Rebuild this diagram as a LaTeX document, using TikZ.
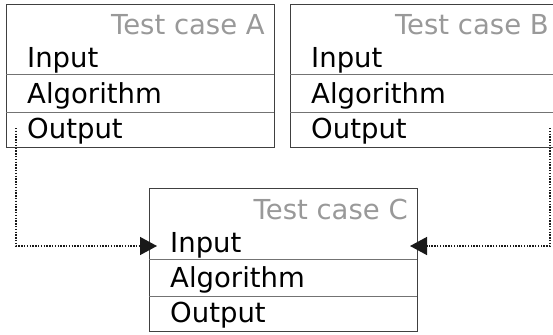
\documentclass[tikz,border=0pt]{standalone}
\usepackage{fontspec}
\setmainfont{DejaVu Sans}
\usetikzlibrary{arrows.meta}
\begin{document}
\begin{tikzpicture}[x=1pt,y=-1pt,
  box/.style={draw=black!75, line width=1pt, minimum width=268pt, minimum height=143pt, anchor=north west, inner sep=0pt},
  sep/.style={draw=black!55, line width=1pt},
  lbl/.style={inner sep=0pt, anchor=base west, font=\fontsize{27.5}{33}\selectfont, text=black},
  ttl/.style={inner sep=0pt, anchor=base east, font=\fontsize{27.5}{33}\selectfont, text=black!40},
  conn/.style={line width=1.4pt, dash pattern=on 1.4pt off 1.4pt, draw=black!90,
    -{Triangle[length=17pt,width=18pt]}},
  pics/testcase/.style={code={
    \node[box] (-box) at (0,0) {};
    \node[ttl] (-title) at (259,31) {Test case #1};
    \node[lbl] (-in) at (21,64) {Input};
    \node[lbl] (-alg) at (21,99) {Algorithm};
    \node[lbl] (-out) at (21,134) {Output};
    \coordinate (-l1) at (0,71);
    \coordinate (-r1) at (268,71);
    \coordinate (-l2) at (0,108);
    \coordinate (-r2) at (268,108);
    \draw[sep] (-l1) -- (-r1);
    \draw[sep] (-l2) -- (-r2);
  }}]
\useasboundingbox (0,0) rectangle (553,334);
\clip (0,0) rectangle (553,334);
\pic (A) at (6,4) {testcase=A};
\pic (B) at (290,4) {testcase=B};
\pic (C) at (149,188) {testcase=C};
\coordinate (As) at (16,128);
\coordinate (Bs) at (550,128);
\coordinate (Ct1) at (157,246);
\coordinate (Ct2) at (410,246);
\draw[conn] (As) |- (Ct1);
\draw[conn] (Bs) |- (Ct2);
\end{tikzpicture}
\end{document}
